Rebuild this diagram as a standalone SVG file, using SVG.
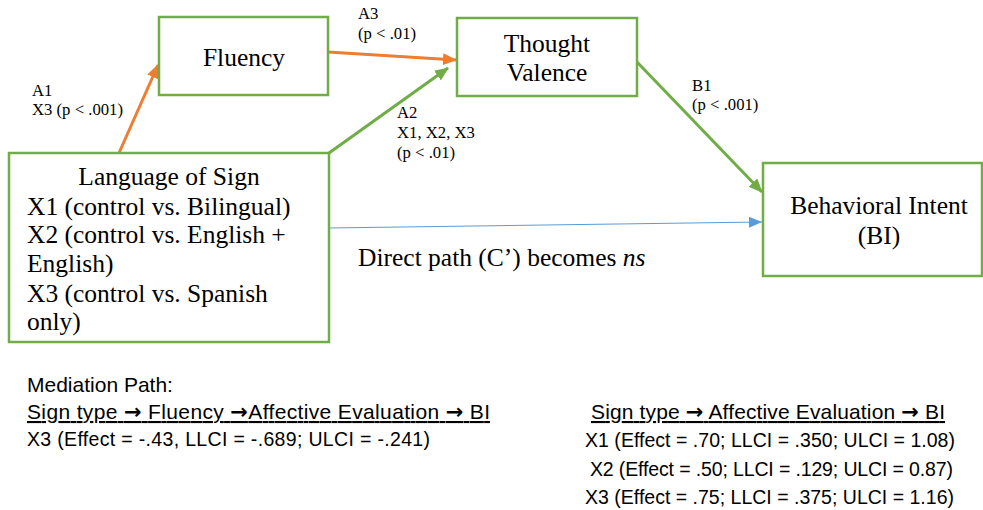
<svg xmlns="http://www.w3.org/2000/svg" width="983" height="510" viewBox="0 0 983 510">
<style>
.box{fill:#fff;stroke:#70AD47;stroke-width:2.5}
.t{font-family:"Liberation Serif","Times New Roman",serif;font-size:25.5px;fill:#000}
.s{font-family:"Liberation Serif","Times New Roman",serif;font-size:16.7px;fill:#000}
.c{font-family:"Liberation Sans",Arial,"DejaVu Sans",sans-serif;font-size:21px;fill:#000}
.d{font-size:19.5px}
.ar{font-family:"DejaVu Sans",sans-serif;font-weight:bold}
.mid{text-anchor:middle}
.or{stroke:#ED7D31;stroke-width:3;fill:none}
.gr{stroke:#70AD47;stroke-width:3;fill:none}
.bl{stroke:#5B9BD5;stroke-width:1.2;fill:none}
</style>
<defs>
<marker id="ao" markerUnits="userSpaceOnUse" markerWidth="14" markerHeight="12" refX="13" refY="6" orient="auto"><path d="M0,0 L14,6 L0,12 z" fill="#ED7D31"/></marker>
<marker id="ag" markerUnits="userSpaceOnUse" markerWidth="14" markerHeight="12" refX="13" refY="6" orient="auto"><path d="M0,0 L14,6 L0,12 z" fill="#70AD47"/></marker>
<marker id="ab" markerUnits="userSpaceOnUse" markerWidth="13" markerHeight="11" refX="13" refY="5.5" orient="auto"><path d="M0,0 L13,5.5 L0,11 z" fill="#5B9BD5"/></marker>
</defs>
<rect width="983" height="510" fill="#fff"/>
<g id="connectors">
<line class="or" x1="119" y1="153" x2="158" y2="65" marker-end="url(#ao)"/>
<line class="or" x1="328" y1="52" x2="456" y2="60" marker-end="url(#ao)"/>
<line class="gr" x1="329" y1="153" x2="448" y2="68" marker-end="url(#ag)"/>
<line class="gr" x1="637" y1="62" x2="762" y2="192" marker-end="url(#ag)"/>
<line class="bl" x1="329" y1="228" x2="762" y2="222" marker-end="url(#ab)"/>
<text class="s" x="32" y="96">A1</text>
<text class="s" x="32" y="115">X3 (p &lt; .001)</text>
<text class="s" x="358" y="19">A3</text>
<text class="s" x="358" y="39">(p &lt; .01)</text>
<text class="s" x="397" y="118">A2</text>
<text class="s" x="397" y="138">X1, X2, X3</text>
<text class="s" x="397" y="158">(p &lt; .01)</text>
<text class="s" x="692" y="91">B1</text>
<text class="s" x="692" y="110">(p &lt; .001)</text>
<text class="t" x="358" y="266">Direct path (C’) becomes <tspan font-style="italic">ns</tspan></text>
</g>
<g id="fluency">
<rect class="box" x="159" y="17" width="169" height="78"/>
<text class="t mid" x="244" y="66">Fluency</text>
</g>
<g id="thought-valence">
<rect class="box" x="457" y="18" width="180" height="78"/>
<text class="t mid" x="547" y="52">Thought</text>
<text class="t mid" x="547" y="81">Valence</text>
</g>
<g id="language-of-sign">
<rect class="box" x="9" y="153" width="320" height="189"/>
<text class="t mid" x="169" y="185">Language of Sign</text>
<text class="t" x="27" y="215">X1 (control vs. Bilingual)</text>
<text class="t" x="27" y="243">X2 (control vs. English +</text>
<text class="t" x="27" y="272">English)</text>
<text class="t" x="27" y="302">X3 (control vs. Spanish</text>
<text class="t" x="27" y="330">only)</text>
</g>
<g id="behavioral-intent">
<rect class="box" x="763" y="163" width="219" height="113"/>
<text class="t mid" x="879" y="214">Behavioral Intent</text>
<text class="t mid" x="879" y="244">(BI)</text>
</g>
<g id="notes">
<text class="c" x="27" y="392" font-size="22">Mediation Path:</text>
<text class="c" x="27" y="419" textLength="463" text-decoration="underline">Sign type <tspan class="ar">→</tspan> Fluency <tspan class="ar">→</tspan>Affective Evaluation <tspan class="ar">→</tspan> BI</text>
<text class="c d" x="27" y="446" textLength="403">X3 (Effect = -.43, LLCI = -.689; ULCI = -.241)</text>
<text class="c" x="591" y="419" textLength="354" text-decoration="underline">Sign type <tspan class="ar">→</tspan> Affective Evaluation <tspan class="ar">→</tspan> BI</text>
<text class="c d" x="585" y="447" textLength="370">X1 (Effect = .70; LLCI = .350; ULCI = 1.08)</text>
<text class="c d" x="590" y="476" textLength="363">X2 (Effect = .50; LLCI = .129; ULCI = 0.87)</text>
<text class="c d" x="585" y="504" textLength="369">X3 (Effect = .75; LLCI = .375; ULCI = 1.16)</text>
</g>
</svg>
